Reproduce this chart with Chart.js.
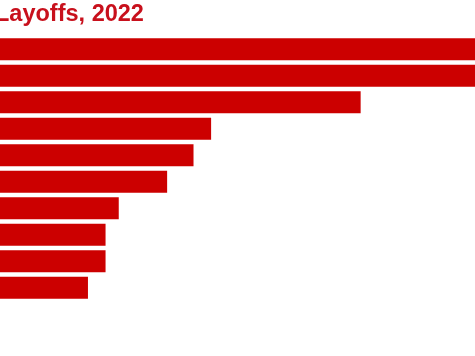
<!DOCTYPE html>
<html>
<head>
<meta charset="utf-8">
<script src="https://cdn.jsdelivr.net/npm/chart.js@4/dist/chart.umd.min.js"></script>
<style>
  html, body { margin: 0; padding: 0; background: #fff; overflow: hidden; }
  #wrap { width: 475px; height: 356px; position: relative; }
</style>
</head>
<body>
<div id="wrap"><canvas id="layoffs-chart"></canvas></div>
<script>
// Datos (las etiquetas de categoría quedan fuera del recorte)
const categories = ["1", "2", "3", "4", "5", "6", "7", "8", "9", "10"];
const layoffs = [11000, 10000, 4100, 2400, 2200, 1900, 1350, 1200, 1200, 1000];
const axisMax = 5400;
const chartTitle = "Layoffs, 2022";

// Título dibujado a mano, cortado por el borde izquierdo
const titlePlugin = {
  id: "cutTitle",
  afterDraw(chart) {
    const ctx = chart.ctx;
    ctx.save();
    ctx.fillStyle = "#c8101c";
    ctx.font = "bold 23.5px 'Liberation Sans', Arial, sans-serif";
    ctx.textBaseline = "alphabetic";
    ctx.fillText(chartTitle, -5, 21);
    ctx.restore();
  },
};

function initChart() {
  const ctx = document.getElementById("layoffs-chart").getContext("2d");
  new Chart(ctx, {
    type: "bar",
    data: {
      labels: categories,
      datasets: [
        {
          data: layoffs,
          backgroundColor: "#cc0000",
          borderWidth: 0,
          barPercentage: 0.83,
          categoryPercentage: 1,
        },
      ],
    },
    options: {
      indexAxis: "y",
      responsive: true,
      maintainAspectRatio: false,
      animation: false,
      layout: { padding: { top: 36, bottom: 55, left: 0, right: 0 } },
      plugins: {
        legend: { display: false },
        tooltip: { enabled: false },
      },
      scales: {
        x: { display: false, min: 0, max: axisMax },
        y: { display: false },
      },
    },
    plugins: [titlePlugin],
  });
}

window.onload = function () {
  initChart();
};
</script>
</body>
</html>
